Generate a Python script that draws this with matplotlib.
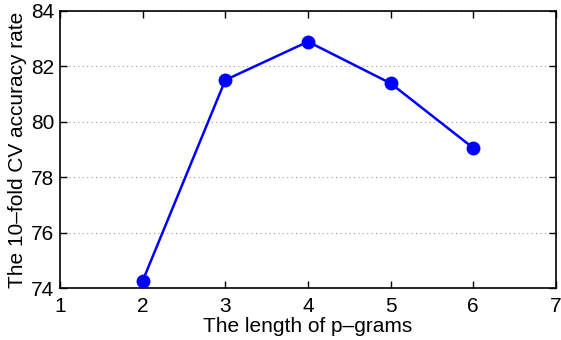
import matplotlib
matplotlib.use("Agg")
import matplotlib.pyplot as plt

plt.rcParams['font.family'] = ['Liberation Sans', 'DejaVu Sans']

p_length = [2, 3, 4, 5, 6]
accuracy = [74.27, 81.5, 82.88, 81.38, 79.05]
x_ticks = [1, 2, 3, 4, 5, 6, 7]
y_ticks = [74, 76, 78, 80, 82, 84]

fig = plt.figure(figsize=(5.61, 3.40), dpi=100)
ax = fig.add_axes([0.107, 0.152, 0.884, 0.817])

ax.plot(p_length, accuracy, color=(0, 0, 1), linewidth=1.8,
        marker='o', markersize=9, markeredgecolor=(0, 0, 1), clip_on=False, zorder=3)

ax.set_xlim(1, 7)
ax.set_ylim(74, 84)
ax.set_xticks(x_ticks)
ax.set_yticks(y_ticks)
ax.yaxis.grid(True, linestyle=(0, (1, 3)), color='#999999', linewidth=0.8)
ax.tick_params(direction='in', top=True, right=True, length=5, width=1,
               labelsize=15)
ax.tick_params(axis='x', pad=6)
ax.tick_params(axis='y', pad=4)
for s in ax.spines.values():
    s.set_linewidth(1.2)

ax.set_xlabel('The length of p\u2013grams', fontsize=15, labelpad=1)
ax.set_ylabel('The 10\u2013fold CV accuracy rate', fontsize=15, labelpad=3)

fig.savefig('out.png', dpi=100)
